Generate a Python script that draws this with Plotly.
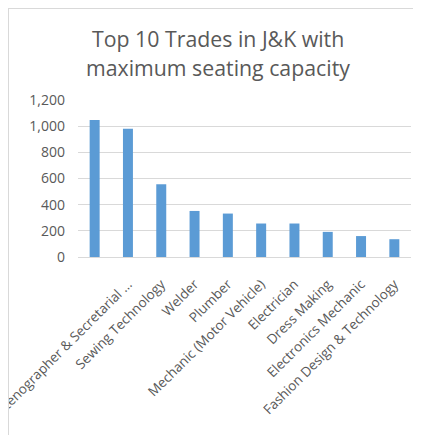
import plotly.graph_objects as go

trades = ["", "Stenographer & Secretarial ...", "Sewing Technology", "Welder", "Plumber",
          "Mechanic (Motor Vehicle)", "Electrician", "Dress Making",
          "Electronics Mechanic", "Fashion Design & Technology"]
seats = [1048, 980, 556, 352, 332, 256, 256, 192, 160, 136]
positions = list(range(len(trades)))
y_ticks = [0, 200, 400, 600, 800, 1000, 1200]

# page has an 8px body margin, so the figure is 8px smaller
W, H = 413, 427
L, R, T, B = 70, 10, 92, 178
pw, ph = W - L - R, H - T - B

def px_x(x):
    return (x - L) / pw

def px_y(y):
    return (H - B - y) / ph

fig = go.Figure(go.Bar(x=positions, y=seats, marker_color="#5B9BD5",
                       marker_line_width=0))

grey = "#595959"
fig.update_layout(
    width=W, height=H,
    margin=dict(l=L, r=R, t=T, b=B, autoexpand=False),
    paper_bgcolor="white", plot_bgcolor="white",
    bargap=0.7,
    showlegend=False,
    font=dict(family="Open Sans", color=grey),
    xaxis=dict(tickmode="array", tickvals=positions, ticktext=trades,
               tickangle=-45, tickfont=dict(size=13.5, color=grey),
               ticklabeloverflow="allow",
               showgrid=False, zeroline=False, showline=True,
               linecolor="#D9D9D9", ticks="", range=[-0.5, 9.5],
               automargin=False, ticklabelstandoff=13),
    yaxis=dict(range=[0, 1200], tickvals=y_ticks, tickformat=",",
               tickfont=dict(size=14, color=grey), showgrid=True,
               gridcolor="#D9D9D9", zeroline=False, showline=False,
               ticks="", automargin=False, ticklabelstandoff=12),
    annotations=[
        dict(text="Top 10 Trades in J&K with", xref="paper", yref="paper",
             x=px_x(210), y=px_y(30), xanchor="center", yanchor="middle",
             showarrow=False, font=dict(size=21.3, color=grey)),
        dict(text="maximum seating capacity", xref="paper", yref="paper",
             x=px_x(210), y=px_y(59), xanchor="center", yanchor="middle",
             showarrow=False, font=dict(size=21.3, color=grey)),
    ],
    shapes=[
        dict(type="line", xref="paper", yref="paper", x0=px_x(0), x1=px_x(420),
             y0=px_y(0.5), y1=px_y(0.5), line=dict(color="#D9D9D9", width=1)),
        dict(type="line", xref="paper", yref="paper", x0=px_x(0.5), x1=px_x(0.5),
             y0=px_y(0), y1=px_y(440), line=dict(color="#D9D9D9", width=1)),
    ],
)

fig.write_html("out.html")
